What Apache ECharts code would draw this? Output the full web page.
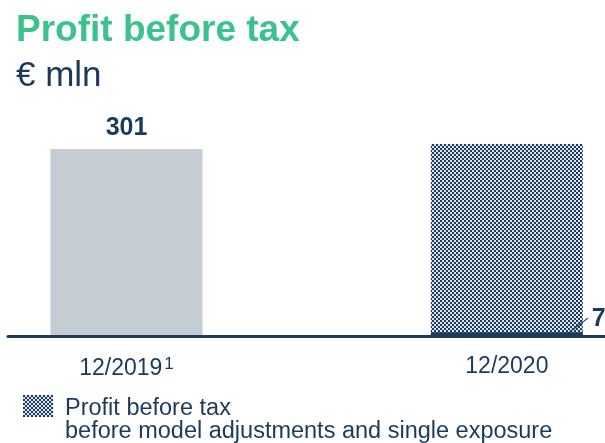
<!DOCTYPE html>
<html>
<head>
<meta charset="utf-8">
<script src="https://cdn.jsdelivr.net/npm/echarts@6/dist/echarts.min.js"></script>
<style>
  html, body { margin: 0; padding: 0; background: #fff; }
  #chart { width: 605px; height: 443px; }
</style>
</head>
<body>
<div id="chart"></div>
<script>
// Profit before tax, € mln
const categories = ['12/2019', '12/2020'];
const footnotes = ['1', ''];
const reported = [301, 7];                 // reported profit before tax
const beforeAdjustments = [null, 309];     // before model adjustments and single exposure
const legendLines = ['Profit before tax', 'before model adjustments and single exposure'];

const NAVY = '#1b3a5c';
const GREY = '#c4ccd4';
const GREEN = '#3cc28d';
const FONT = '"Liberation Sans", Arial, sans-serif';

// checkerboard fill for the "before adjustments" bar
function checker() {
  const c = document.createElement('canvas');
  c.width = 4; c.height = 4;
  const g = c.getContext('2d');
  g.fillStyle = '#dfe4ea';
  g.fillRect(0, 0, 4, 4);
  g.fillStyle = NAVY;
  g.fillRect(0, 0, 2, 2);
  g.fillRect(2, 2, 2, 2);
  return c;
}
const pattern = { image: checker(), repeat: 'repeat' };

const chart = echarts.init(document.getElementById('chart'), null, { renderer: 'canvas' });

const BAR_W = 152;

const option = {
  animation: false,
  backgroundColor: '#fff',
  textStyle: { fontFamily: FONT },
  title: [
    { text: 'Profit before tax', left: 11, top: 7,
      textStyle: { fontFamily: FONT, fontSize: 37, fontWeight: 'bold', color: GREEN } },
    { text: '€ mln', left: 11, top: 54,
      textStyle: { fontFamily: FONT, fontSize: 35, fontWeight: 'normal', color: NAVY } }
  ],
  grid: { left: 8, right: 0, top: 87.3, bottom: 106.5, containLabel: false },
  xAxis: {
    type: 'value',
    min: -0.3115,
    max: 1.258,
    z: 5,
    axisLine: { show: true, onZero: false, lineStyle: { color: NAVY, width: 3 } },
    axisTick: { show: false },
    splitLine: { show: false },
    axisLabel: {
      customValues: [0, 1],
      margin: 19,
      color: NAVY,
      fontFamily: FONT,
      fontSize: 23,
      formatter: v => {
        const i = Math.round(v);
        return footnotes[i] ? categories[i] + '{sup|' + footnotes[i] + '}' : categories[i];
      },
      rich: {
        sup: { fontSize: 17, color: NAVY, fontFamily: FONT, verticalAlign: 'top', padding: [0, 0, 9, 2] }
      }
    }
  },
  yAxis: {
    type: 'value', min: 0, max: 400, show: false, splitLine: { show: false }
  },
  series: [
    {
      name: 'before adjustments',
      type: 'bar',
      barWidth: BAR_W,
      barGap: '-100%',
      z: 2,
      itemStyle: { color: pattern },
      data: beforeAdjustments.map((v, i) => [i, v])
    },
    {
      name: 'reported',
      type: 'bar',
      barWidth: BAR_W,
      barGap: '-100%',
      z: 3,
      data: reported.map((v, i) => ({
        value: [i, v],
        itemStyle: { color: i === 0 ? GREY : NAVY },
        label: i === 0
          ? { show: true, position: 'top', distance: 8 }
          : { show: true, position: 'right', distance: 9, offset: [0, -15] }
      })),
      label: {
        color: NAVY, fontFamily: FONT, fontSize: 25, fontWeight: 'bold',
        formatter: p => String(p.value[1])
      }
    }
  ]
};

chart.setOption(option);

// leader line from the small 12/2020 bar to its value label, plus the legend
const base = chart.convertToPixel({ seriesIndex: 1 }, [1, 0]);
const top7 = chart.convertToPixel({ seriesIndex: 1 }, [1, reported[1]]);
const right = base[0] + BAR_W / 2;

chart.setOption({
  graphic: [
    { type: 'line', z: 10,
      shape: { x1: right - 15, y1: base[1] - 3, x2: right + 5, y2: top7[1] - 14 },
      style: { stroke: NAVY, lineWidth: 1.2 } },
    { type: 'rect', left: 23, top: 395, z: 10,
      shape: { width: 30, height: 22 },
      style: { fill: pattern } },
    { type: 'text', left: 65, top: 397, z: 10,
      style: { text: legendLines.join('\n'), fill: NAVY, font: '23.5px "Liberation Sans", Arial, sans-serif', lineHeight: 23 } }
  ]
});
</script>
</body>
</html>
